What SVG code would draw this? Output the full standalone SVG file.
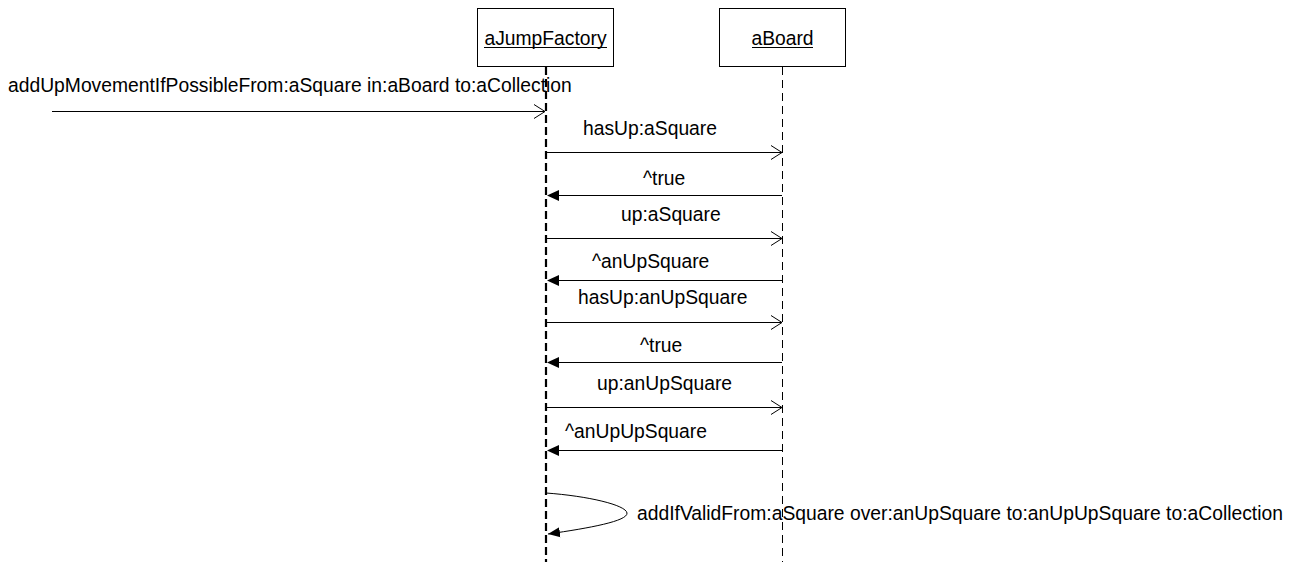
<svg xmlns="http://www.w3.org/2000/svg" width="1295" height="564" viewBox="0 0 1295 564">
  <style>
    text { font-family: "Liberation Sans", Arial, sans-serif; font-size: 19.3px; fill: #000; }
    .box { fill: #fff; stroke: #000; stroke-width: 1; }
    .msg { stroke: #000; stroke-width: 1; fill: none; }
    .open { stroke: #000; stroke-width: 1; fill: none; }
    .head { fill: #000; stroke: none; }
  </style>
  <defs>
    <marker id="filled" markerWidth="14" markerHeight="12" refX="12" refY="6" orient="auto" markerUnits="userSpaceOnUse">
      <path d="M0,1 L12,6 L0,11 Z" fill="#000"/>
    </marker>
  </defs>
  <rect width="1295" height="564" fill="#fff"/>

  <!-- lifelines -->
  <g id="lifelines">
    <line x1="546" y1="67" x2="546" y2="562" stroke="#000" stroke-width="2.2" stroke-dasharray="8,4"/>
    <line x1="782.5" y1="67" x2="782.5" y2="562" stroke="#000" stroke-width="1" stroke-dasharray="8,5"/>
  </g>

  <g id="aJumpFactory">
    <rect class="box" x="477.5" y="8.5" width="136" height="58"/>
    <text x="545.5" y="45" text-anchor="middle">aJumpFactory</text>
    <line x1="484" y1="47.5" x2="607" y2="47.5" stroke="#000" stroke-width="1"/>
  </g>

  <g id="aBoard">
    <rect class="box" x="719.5" y="8.5" width="126" height="58"/>
    <text x="782.5" y="45" text-anchor="middle">aBoard</text>
    <line x1="752" y1="47.5" x2="813" y2="47.5" stroke="#000" stroke-width="1"/>
  </g>

  <g id="connectors">
    <!-- incoming call -->
    <line class="msg" x1="52" y1="111.5" x2="545" y2="111.5"/>
    <polyline class="open" points="534,104.5 545,111.5 534,118.5"/>
    <text x="8" y="92">addUpMovementIfPossibleFrom:aSquare in:aBoard to:aCollection</text>

    <!-- hasUp:aSquare -->
    <line class="msg" x1="547" y1="152.5" x2="782" y2="152.5"/>
    <polyline class="open" points="771,145.5 782,152.5 771,159.5"/>
    <text x="583" y="135">hasUp:aSquare</text>

    <!-- ^true -->
    <line class="msg" x1="558" y1="195.5" x2="782" y2="195.5"/>
    <path class="head" d="M547,195.5 L559,190 L559,201 Z"/>
    <text x="643" y="185">^true</text>

    <!-- up:aSquare -->
    <line class="msg" x1="547" y1="238.5" x2="782" y2="238.5"/>
    <polyline class="open" points="771,231.5 782,238.5 771,245.5"/>
    <text x="621" y="221">up:aSquare</text>

    <!-- ^anUpSquare -->
    <line class="msg" x1="558" y1="280.5" x2="782" y2="280.5"/>
    <path class="head" d="M547,280.5 L559,275 L559,286 Z"/>
    <text x="592" y="268">^anUpSquare</text>

    <!-- hasUp:anUpSquare -->
    <line class="msg" x1="547" y1="322.5" x2="782" y2="322.5"/>
    <polyline class="open" points="771,315.5 782,322.5 771,329.5"/>
    <text x="578" y="304">hasUp:anUpSquare</text>

    <!-- ^true -->
    <line class="msg" x1="558" y1="362.5" x2="782" y2="362.5"/>
    <path class="head" d="M547,362.5 L559,357 L559,368 Z"/>
    <text x="640" y="352">^true</text>

    <!-- up:anUpSquare -->
    <line class="msg" x1="547" y1="407.5" x2="782" y2="407.5"/>
    <polyline class="open" points="771,400.5 782,407.5 771,414.5"/>
    <text x="597" y="390">up:anUpSquare</text>

    <!-- ^anUpUpSquare -->
    <line class="msg" x1="558" y1="450.5" x2="782" y2="450.5"/>
    <path class="head" d="M547,450.5 L559,445 L559,456 Z"/>
    <text x="565" y="438">^anUpUpSquare</text>

    <!-- self call -->
    <path class="msg" d="M546,493 C588,496 626,505 627,513 C628,521 590,528 548,534" marker-end="url(#filled)"/>
    <text x="637" y="520">addIfValidFrom:aSquare over:anUpSquare to:anUpUpSquare to:aCollection</text>
  </g>
</svg>
